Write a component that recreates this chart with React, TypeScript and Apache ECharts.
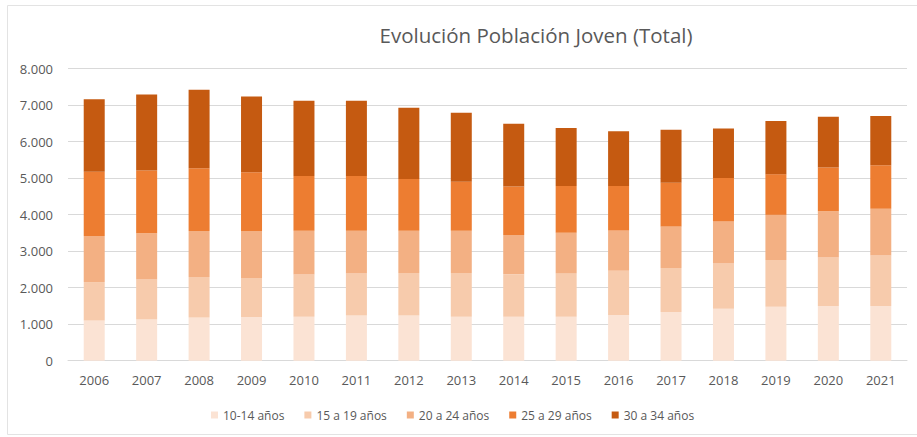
import React, { useEffect, useRef } from "react";
import * as echarts from "echarts";

const years = ["2006","2007","2008","2009","2010","2011","2012","2013","2014","2015","2016","2017","2018","2019","2020","2021"];
const seriesNames = ["10-14 años", "15 a 19 años", "20 a 24 años", "25 a 29 años", "30 a 34 años"];
const age10_14 = [1100,1130,1180,1195,1205,1240,1240,1205,1205,1205,1250,1335,1425,1480,1500,1500];
const age15_19 = [1055,1095,1115,1070,1160,1150,1160,1195,1160,1195,1215,1205,1240,1280,1325,1380];
const age20_24 = [1260,1270,1260,1290,1195,1170,1160,1160,1080,1105,1105,1140,1150,1235,1270,1285];
const age25_29 = [1760,1715,1715,1605,1500,1500,1415,1340,1325,1280,1215,1195,1190,1115,1195,1190];
const age30_34 = [1990,2080,2155,2080,2065,2065,1955,1890,1725,1590,1500,1450,1360,1460,1395,1350];
const colors = ["#FBE3D4", "#F7CBAC", "#F3B083", "#ED7D31", "#C55A11"];
const allSeries = [age10_14, age15_19, age20_24, age25_29, age30_34];

const fmt = (v: number) => String(v).replace(/\B(?=(\d{3})+(?!\d))/g, ".");

export default function App() {
  const ref = useRef<HTMLDivElement>(null);
  useEffect(() => {
    if (!ref.current) return;
    const chart = echarts.init(ref.current, null, { renderer: "svg" });
    const font = "'Open Sans', sans-serif";
    chart.setOption({
      animation: false,
      backgroundColor: "#ffffff",
      textStyle: { fontFamily: font },
      graphic: [
        {
          type: "rect",
          shape: { x: 7.5, y: 5.5, width: 930, height: 429 },
          style: { fill: "none", stroke: "#e3e3e3", lineWidth: 1 },
          silent: true,
        },
      ],
      title: {
        text: "Evolución Población Joven (Total)",
        left: 531,
        top: 19,
        textAlign: "center",
        textStyle: { fontFamily: font, fontSize: 20.5, fontWeight: "normal", color: "#595959" },
      },
      legend: {
        data: seriesNames,
        left: 206,
        top: 404,
        itemWidth: 7,
        itemHeight: 7,
        itemGap: 20,
        icon: "rect",
        textStyle: { fontFamily: font, fontSize: 12, color: "#595959" },
      },
      grid: { left: 68, right: 10, top: 68.7, bottom: 76.3, containLabel: false },
      xAxis: {
        type: "category",
        data: years,
        axisLine: { lineStyle: { color: "#d9d9d9" } },
        axisTick: { show: false },
        axisLabel: { color: "#595959", fontSize: 13, margin: 13, fontFamily: font },
      },
      yAxis: {
        type: "value",
        min: 0,
        max: 8000,
        interval: 1000,
        axisLabel: { color: "#595959", fontSize: 13, margin: 15, fontFamily: font, formatter: (v: number) => fmt(v) },
        splitLine: { lineStyle: { color: "#d9d9d9" } },
        axisLine: { show: false },
        axisTick: { show: false },
      },
      series: allSeries.map((d, i) => ({
        name: seriesNames[i],
        type: "bar",
        stack: "total",
        barWidth: 21,
        data: d,
        itemStyle: { color: colors[i] },
      })),
    });
    return () => chart.dispose();
  }, []);
  return <div ref={ref} style={{ position: "fixed", left: 0, top: 0, width: 917, height: 437 }} />;
}
